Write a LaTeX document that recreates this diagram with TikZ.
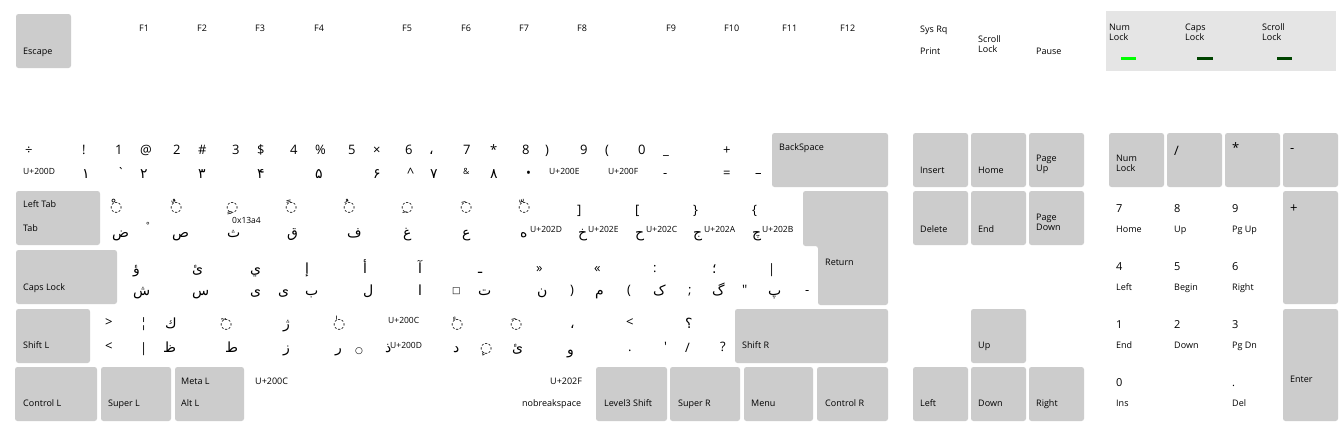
\documentclass[tikz,border=0pt]{standalone}
\usepackage{fontspec}
\setmainfont{Open Sans}
\newfontfamily\plainf{Open Sans}
\newfontfamily\arf[Script=Arabic]{DejaVu Sans}
\newfontfamily\djv{DejaVu Sans}
\TeXXeTstate=1
\definecolor{keygrey}{HTML}{CCCCCC}
\definecolor{ledpanel}{HTML}{E5E5E5}
\definecolor{ledon}{HTML}{00FF00}
\definecolor{ledoff}{HTML}{004400}
\tikzset{
  keybox/.style={fill=keygrey, rounded corners=2.5pt},
  lab/.style={anchor=base west, inner sep=0pt, font=\fontsize{9}{10}\selectfont},
  ulab/.style={anchor=base west, inner sep=0pt, font=\fontsize{8.5}{9}\selectfont},
  sym/.style={anchor=base west, inner sep=0pt, font=\plainf\fontsize{13}{14}\selectfont},
  nsym/.style={anchor=base west, inner sep=0pt, font=\fontsize{11}{12}\selectfont},
  ar/.style={anchor=base west, inner sep=0pt, font=\arf\fontsize{14}{15}\selectfont},
  dj/.style={anchor=base west, inner sep=0pt, font=\djv\fontsize{9}{10}\selectfont},
}
\begin{document}
\begin{tikzpicture}[x=1pt,y=-1pt]
\useasboundingbox (0,0) rectangle (1344,437);
\fill[white] (0,0) rectangle (1344,437);
% ---------- grey keys ----------
\fill[keybox] (16,14) rectangle (71,68);
\fill[keybox] (772,133) rectangle (888,187);
\fill[keybox] (16,191) rectangle (100,245);
\fill[keybox] (803,191) -- (888,191) -- (888,305) -- (818,305) -- (818,246) -- (803,246) -- cycle;
\fill[keybox] (16,250) rectangle (117,304);
\fill[keybox] (16,309) rectangle (90,363);
\fill[keybox] (735,309) rectangle (888,363);
\fill[keybox] (15,367) rectangle (97,421);
\fill[keybox] (101,367) rectangle (171,421);
\fill[keybox] (175,367) rectangle (244,421);
\fill[keybox] (596,367) rectangle (667,421);
\fill[keybox] (670,367) rectangle (740,421);
\fill[keybox] (744,367) rectangle (813,421);
\fill[keybox] (817,367) rectangle (888,421);
% nav cluster
\fill[keybox] (913,133) rectangle (968,187);
\fill[keybox] (971,133) rectangle (1026,187);
\fill[keybox] (1029,133) rectangle (1084,187);
\fill[keybox] (913,191) rectangle (968,245);
\fill[keybox] (971,191) rectangle (1026,245);
\fill[keybox] (1029,191) rectangle (1084,245);
\fill[keybox] (971,309) rectangle (1026,363);
\fill[keybox] (913,367) rectangle (968,421);
\fill[keybox] (971,367) rectangle (1026,421);
\fill[keybox] (1029,367) rectangle (1084,421);
% numpad
\fill[keybox] (1109,133) rectangle (1164,187);
\fill[keybox] (1167,133) rectangle (1222,187);
\fill[keybox] (1225,133) rectangle (1280,187);
\fill[keybox] (1283,133) rectangle (1338,187);
\fill[keybox] (1283,191) rectangle (1338,304);
\fill[keybox] (1283,309) rectangle (1338,421);
% LED panel
\fill[ledpanel] (1106,11) rectangle (1336,71);
\fill[ledon] (1121,57) rectangle (1136,60);
\fill[ledoff] (1197,57) rectangle (1213,60);
\fill[ledoff] (1277,57) rectangle (1292,60);
\node[lab] at (1109,30) {Num};   \node[lab] at (1109,40) {Lock};
\node[lab] at (1185,30) {Caps};  \node[lab] at (1185,40) {Lock};
\node[lab] at (1262,30) {Scroll};\node[lab] at (1262,40) {Lock};
% ---------- function row ----------
\node[lab] at (23,54) {Escape};
\node[lab] at (139,31) {F1};
\node[lab] at (197,31) {F2};
\node[lab] at (255,31) {F3};
\node[lab] at (314,31) {F4};
\node[lab] at (402,31) {F5};
\node[lab] at (461,31) {F6};
\node[lab] at (519,31) {F7};
\node[lab] at (577,31) {F8};
\node[lab] at (666,31) {F9};
\node[lab] at (724,31) {F10};
\node[lab] at (782,31) {F11};
\node[lab] at (840,31) {F12};
\node[lab] at (920,32) {Sys Rq};
\node[lab] at (920,54) {Print};
\node[lab] at (978,42) {Scroll};
\node[lab] at (978,52) {Lock};
\node[lab] at (1036,54) {Pause};
% ---------- number row ----------
\node[sym] at (25,154) {÷};
\node[sym] at (82,154) {!};
\node[sym] at (115,154) {1};
\node[sym] at (140,154) {@};
\node[sym] at (173,154) {2};
\node[sym] at (198,154) {\#};
\node[sym] at (232,154) {3};
\node[sym] at (257,154) {\$};
\node[sym] at (290,154) {4};
\node[sym] at (315,154) {\%};
\node[sym] at (348,154) {5};
\node[sym] at (373,154) {×};
\node[sym] at (405,154) {6};
\node[ar]  at (429,154) {،};
\node[sym] at (463,154) {7};
\node[sym] at (490,154) {*};
\node[sym] at (522,154) {8};
\node[sym] at (545,154) {)};
\node[sym] at (580,154) {9};
\node[sym] at (605,154) {(};
\node[sym] at (638,154) {0};
\node[sym] at (663,154) {\_};
\node[sym] at (723,154) {+};
\node[ulab] at (23,174) {U+200D};
\node[ar]  at (82,178) {١};
\node[sym] at (117,177) {`};
\node[ar]  at (140,178) {٢};
\node[ar]  at (198,178) {٣};
\node[ar]  at (257,178) {۴};
\node[ar]  at (315,178) {۵};
\node[ar]  at (373,178) {۶};
\node[sym] at (407,177) {\^{}};
\node[ar]  at (430,178) {٧};
\node[ulab] at (463,174) {\&};
\node[ar]  at (490,178) {٨};
\node[sym] at (526,177) {•};
\node[ulab] at (549,174) {U+200E};
\node[ulab] at (608,174) {U+200F};
\node[sym] at (663,177) {-};
\node[sym] at (723,177) {=};
\node[sym] at (755,177) {–};
\node[lab] at (779,150) {BackSpace};
% ---------- tab row ----------
\node[lab] at (23,207) {Left Tab};
\node[lab] at (23,231) {Tab};
\node[ar] at (110,211) {◌ْ};
\node[ar] at (170,211) {◌ٌ};
\node[ar] at (226,211) {◌ٍ};
\node[ar] at (285,211) {◌ً};
\node[ar] at (343,211) {◌ُ};
\node[ar] at (401,211) {◌ِ};
\node[ar] at (460,211) {◌َ};
\node[ar] at (518,211) {◌ّ};
\node[sym] at (577,214) {]};
\node[sym] at (635,214) {[};
\node[sym] at (693,214) {\}};
\node[sym] at (752,214) {\{};
\node[ar] at (112,237) {ض};
\node[ulab] at (146,228) {°};
\node[ar] at (172,237) {ص};
\node[ar] at (227,237) {ث};
\node[ulab] at (232,223) {0x13a4};
\node[ar] at (287,237) {ق};
\node[ar] at (347,237) {ف};
\node[ar] at (403,237) {غ};
\node[ar] at (462,237) {ع};
\node[ar] at (520,237) {ه};
\node[ulab] at (530,232) {U+202D};
\node[ar] at (578,237) {خ};
\node[ulab] at (588,232) {U+202E};
\node[ar] at (635,237) {ح};
\node[ulab] at (646,232) {U+202C};
\node[ar] at (693,237) {ج};
\node[ulab] at (704,232) {U+202A};
\node[ar] at (752,237) {چ};
\node[ulab] at (762,232) {U+202B};
\node[lab] at (825,265) {Return};
% ---------- caps row ----------
\node[lab] at (23,290) {Caps Lock};
\node[ar] at (133,273) {ؤ};
\node[ar] at (192,273) {ئ};
\node[ar] at (250,273) {ي};
\node[ar] at (305,273) {إ};
\node[ar] at (363,273) {أ};
\node[ar] at (418,273) {آ};
\node[ar] at (478,273) {ـ};
\node[sym] at (536,272) {»};
\node[sym] at (594,272) {«};
\node[sym] at (653,272) {:};
\node[ar] at (712,273) {؛};
\node[sym] at (768,273) {|};
\node[ar] at (133,295) {ش};
\node[ar] at (192,295) {س};
\node[ar] at (250,295) {ی};
\node[ar] at (278,295) {ى};
\node[ar] at (305,295) {ب};
\node[ar] at (363,295) {ل};
\node[ar] at (418,295) {ا};
\node[dj] at (452,293) {□};
\node[ar] at (478,295) {ت};
\node[ar] at (537,295) {ن};
\node[sym] at (570,294) {)};
\node[ar] at (595,295) {م};
\node[sym] at (627,294) {(};
\node[ar] at (653,295) {ک};
\node[sym] at (688,294) {;};
\node[ar] at (712,295) {گ};
\node[sym] at (742,294) {"};
\node[ar] at (768,295) {پ};
\node[sym] at (805,294) {-};
% ---------- shift row ----------
\node[lab] at (23,348) {Shift L};
\node[lab] at (742,348) {Shift R};
\node[sym] at (105,326) {>};
\node[sym] at (140,327) {¦};
\node[ar] at (165,328) {ك};
\node[ar] at (220,328) {◌ٓ};
\node[ar] at (283,328) {ژ};
\node[ar] at (333,328) {◌ٰ};
\node[ulab] at (388,323) {U+200C};
\node[ar] at (451,328) {◌ٔ};
\node[ar] at (510,328) {◌َ};
\node[ar] at (570,328) {،};
\node[sym] at (626,326) {<};
\node[ar] at (685,328) {؟};
\node[sym] at (105,350) {<};
\node[sym] at (140,352) {|};
\node[ar] at (163,352) {ظ};
\node[ar] at (225,352) {ط};
\node[ar] at (283,352) {ز};
\node[ar] at (335,352) {ر};
\node[dj] at (355,353) {○};
\node[ar] at (385,352) {ذ};
\node[ulab] at (390,348) {U+200D};
\node[ar] at (453,352) {د};
\node[ar] at (480,352) {◌ٕ};
\node[ar] at (512,352) {ئ};
\node[ar] at (567,354) {و};
\node[sym] at (628,351) {.};
\node[sym] at (664,351) {'};
\node[sym] at (685,352) {/};
\node[sym] at (720,351) {?};
% ---------- bottom row ----------
\node[lab] at (23,406) {Control L};
\node[lab] at (108,406) {Super L};
\node[lab] at (181,384) {Meta L};
\node[lab] at (181,406) {Alt L};
\node[lab] at (255,384) {U+200C};
\node[lab] at (550,384) {U+202F};
\node[lab] at (522,406) {nobreakspace};
\node[lab] at (604,406) {Level3 Shift};
\node[lab] at (678,406) {Super R};
\node[lab] at (751,406) {Menu};
\node[lab] at (825,406) {Control R};
% ---------- nav cluster ----------
\node[lab] at (920,173) {Insert};
\node[lab] at (978,173) {Home};
\node[lab] at (1036,161) {Page};
\node[lab] at (1036,171) {Up};
\node[lab] at (920,232) {Delete};
\node[lab] at (978,232) {End};
\node[lab] at (1036,220) {Page};
\node[lab] at (1036,230) {Down};
\node[lab] at (978,348) {Up};
\node[lab] at (920,406) {Left};
\node[lab] at (978,406) {Down};
\node[lab] at (1036,406) {Right};
% ---------- numpad ----------
\node[lab] at (1116,161) {Num};
\node[lab] at (1116,171) {Lock};
\node[sym] at (1174,155) {/};
\node[sym] at (1232,152) {*};
\node[sym] at (1290,152) {-};
\node[sym] at (1290,212) {+};
\node[lab] at (1290,382) {Enter};
\node[nsym] at (1116,212) {7};  \node[lab] at (1116,232) {Home};
\node[nsym] at (1174,212) {8};  \node[lab] at (1174,232) {Up};
\node[nsym] at (1232,212) {9};  \node[lab] at (1232,232) {Pg Up};
\node[nsym] at (1116,270) {4};  \node[lab] at (1116,290) {Left};
\node[nsym] at (1174,270) {5};  \node[lab] at (1174,290) {Begin};
\node[nsym] at (1232,270) {6};  \node[lab] at (1232,290) {Right};
\node[nsym] at (1116,328) {1};  \node[lab] at (1116,348) {End};
\node[nsym] at (1174,328) {2};  \node[lab] at (1174,348) {Down};
\node[nsym] at (1232,328) {3};  \node[lab] at (1232,348) {Pg Dn};
\node[nsym] at (1116,386) {0};  \node[lab] at (1116,406) {Ins};
\node[nsym] at (1232,386) {.};  \node[lab] at (1232,406) {Del};
\end{tikzpicture}
\end{document}
